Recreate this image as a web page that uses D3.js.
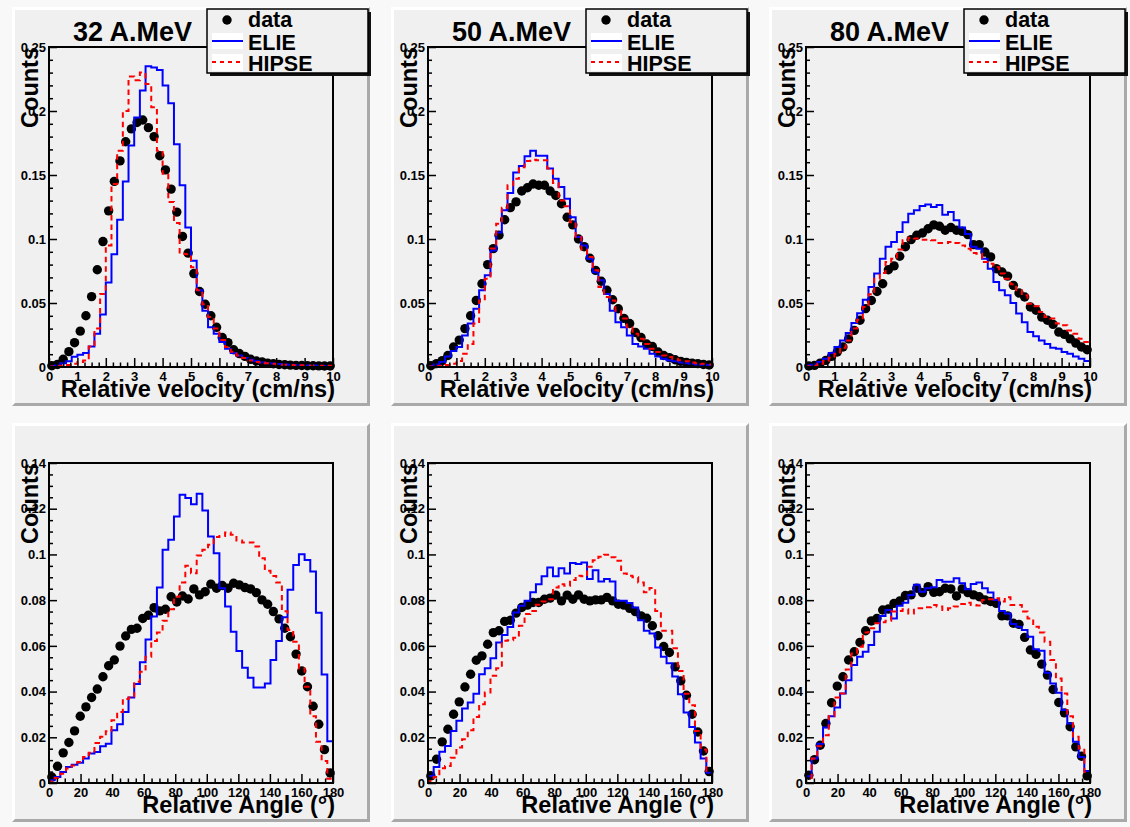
<!DOCTYPE html>
<html><head><meta charset="utf-8">
<script src="https://cdn.jsdelivr.net/npm/d3@7"></script>
<style>
body{margin:0;background:#f8f8f8}
svg{display:block}
text{font-family:"Liberation Sans",Arial,Helvetica,sans-serif;font-weight:bold;fill:#000}
</style>
</head><body>
<svg id="c" width="1130" height="827"></svg>
<script>
// ---------- categories / labels ----------
const energies = ["32 A.MeV", "50 A.MeV", "80 A.MeV"];
const seriesNames = ["data", "ELIE", "HIPSE"];
const velocityTitle = "Relative velocity (cm/ns)";
const angleTitle = "Relative Angle (°)";
const yTitle = "Counts";
const velocityRange = [0, 10];
const angleRange = [0, 180];
const nBins = 50;
const velXTicks = [0,1,2,3,4,5,6,7,8,9,10];
const velYTicks = [0,0.05,0.1,0.15,0.2,0.25];
const angXTicks = [0,20,40,60,80,100,120,140,160,180];
const angYTicks = [0,0.02,0.04,0.06,0.08,0.1,0.12,0.14];

// ---------- relative velocity, 32 A.MeV ----------
const vel32Data = [0.001,0.002,0.006,0.012,0.019,0.028,0.040,0.055,0.076,0.098,0.122,0.145,0.161,0.176,0.186,0.191,0.193,0.187,0.180,0.165,0.154,0.139,0.121,0.102,0.089,0.073,0.059,0.049,0.040,0.031,0.023,0.019,0.0135,0.0105,0.0083,0.006,0.0047,0.004,0.003,0.0025,0.002,0.0018,0.0015,0.0013,0.0012,0.001,0.001,0.0009,0.0008,0.0008];
const vel32Elie = [0.0005,0.0012,0.003,0.0045,0.008,0.0095,0.011,0.016,0.026,0.041,0.066,0.088,0.115,0.145,0.173,0.195,0.216,0.235,0.234,0.232,0.220,0.206,0.174,0.142,0.109,0.083,0.060,0.044,0.031,0.026,0.0195,0.0143,0.011,0.009,0.007,0.0057,0.0045,0.0036,0.003,0.0027,0.0024,0.002,0.0018,0.0016,0.0014,0.0012,0.0011,0.001,0.0009,0.0008];
const vel32Hipse = [0.0003,0.0005,0.001,0.0015,0.0025,0.004,0.005,0.016,0.030,0.057,0.095,0.143,0.169,0.200,0.227,0.224,0.230,0.221,0.203,0.169,0.151,0.129,0.1125,0.0885,0.088,0.078,0.060,0.049,0.039,0.030,0.021,0.0156,0.012,0.009,0.007,0.005,0.004,0.0035,0.003,0.0025,0.002,0.0018,0.0016,0.0014,0.0013,0.0012,0.0011,0.001,0.001,0.001];

// ---------- relative velocity, 50 A.MeV ----------
const vel50Data = [0.001,0.0026,0.005,0.009,0.0156,0.021,0.030,0.040,0.052,0.065,0.080,0.0925,0.103,0.115,0.1245,0.129,0.1375,0.140,0.143,0.142,0.142,0.1375,0.134,0.1275,0.117,0.111,0.100,0.094,0.085,0.0755,0.067,0.060,0.0525,0.0455,0.038,0.034,0.027,0.023,0.018,0.016,0.0117,0.009,0.0073,0.0057,0.0044,0.0036,0.003,0.0026,0.002,0.0016];
const vel50Elie = [0.0008,0.002,0.004,0.0083,0.0125,0.0156,0.0247,0.034,0.0455,0.060,0.0716,0.091,0.105,0.1224,0.136,0.152,0.157,0.1646,0.169,0.165,0.165,0.155,0.147,0.1406,0.1315,0.117,0.1016,0.095,0.0846,0.074,0.0677,0.057,0.044,0.035,0.031,0.0247,0.018,0.016,0.0143,0.0104,0.0083,0.0065,0.0052,0.0044,0.0036,0.003,0.0026,0.002,0.0018,0.0016];
const vel50Hipse = [0.0003,0.0005,0.001,0.0016,0.0026,0.0047,0.0104,0.018,0.034,0.052,0.069,0.0925,0.112,0.1245,0.142,0.147,0.156,0.161,0.162,0.1615,0.1615,0.155,0.1437,0.130,0.1255,0.113,0.1016,0.0917,0.086,0.0755,0.0625,0.0547,0.052,0.044,0.0378,0.031,0.026,0.022,0.018,0.0143,0.0117,0.009,0.0078,0.0065,0.0052,0.0044,0.0036,0.003,0.0026,0.002];

// ---------- relative velocity, 80 A.MeV ----------
const vel80Data = [0.0008,0.0013,0.003,0.0052,0.0083,0.0117,0.0156,0.022,0.0286,0.0365,0.0456,0.052,0.059,0.065,0.076,0.079,0.0865,0.094,0.0995,0.1029,0.1047,0.108,0.111,0.110,0.1068,0.109,0.1068,0.106,0.1034,0.0956,0.0956,0.0898,0.086,0.0768,0.0742,0.071,0.0638,0.0578,0.0547,0.0469,0.0443,0.039,0.0365,0.0333,0.0273,0.0255,0.022,0.0187,0.0156,0.0135];
const vel80Elie = [0.0013,0.002,0.004,0.0065,0.011,0.0156,0.0208,0.0266,0.0344,0.042,0.0526,0.0625,0.073,0.0846,0.094,0.0977,0.1055,0.113,0.1198,0.1224,0.1258,0.127,0.125,0.1266,0.119,0.121,0.1146,0.109,0.104,0.094,0.0924,0.0846,0.0768,0.0664,0.060,0.056,0.050,0.0417,0.035,0.0273,0.024,0.0208,0.018,0.0151,0.0143,0.0117,0.0104,0.0083,0.0065,0.0047];
const vel80Hipse = [0.0005,0.001,0.0026,0.0047,0.0073,0.0104,0.0151,0.0208,0.030,0.037,0.0469,0.0568,0.069,0.0734,0.082,0.0846,0.0917,0.099,0.101,0.1003,0.0995,0.0995,0.099,0.0969,0.0969,0.0977,0.0969,0.095,0.0924,0.089,0.0885,0.082,0.0807,0.078,0.073,0.069,0.0646,0.060,0.056,0.0495,0.0474,0.043,0.039,0.0378,0.0339,0.0326,0.0286,0.026,0.022,0.0195];

// ---------- relative angle, 32 A.MeV ----------
const ang32Data = [0.0026,0.0073,0.0132,0.0177,0.0228,0.0292,0.0333,0.0374,0.0411,0.0465,0.0513,0.0538,0.0599,0.0643,0.0672,0.0677,0.072,0.0734,0.0767,0.0753,0.076,0.0815,0.0792,0.0818,0.0805,0.0849,0.0823,0.0837,0.087,0.0852,0.0864,0.0852,0.0874,0.0867,0.0855,0.0849,0.0833,0.0801,0.0782,0.075,0.0718,0.0677,0.064,0.0564,0.049,0.0421,0.0336,0.0257,0.0146,0.0044];
const ang32Elie = [0.0012,0.0026,0.0048,0.007,0.008,0.0089,0.0107,0.0129,0.0136,0.0161,0.0172,0.0231,0.0257,0.0311,0.0374,0.0433,0.0528,0.0628,0.0728,0.0855,0.102,0.1064,0.1166,0.1261,0.1247,0.122,0.1266,0.1192,0.1078,0.1005,0.0852,0.0772,0.0662,0.0577,0.0504,0.046,0.0418,0.0418,0.0435,0.0538,0.0621,0.0725,0.0845,0.0954,0.1001,0.0976,0.0925,0.0745,0.0475,0.0183];
const ang32Hipse = [0.0007,0.0022,0.0041,0.0063,0.0077,0.0092,0.0114,0.0132,0.0175,0.0202,0.0226,0.0275,0.0311,0.0368,0.0374,0.0443,0.0487,0.0552,0.0621,0.0658,0.071,0.076,0.0815,0.0877,0.095,0.0918,0.0995,0.102,0.1042,0.1076,0.1081,0.1096,0.1086,0.1061,0.1052,0.1052,0.1035,0.0983,0.0929,0.0906,0.0877,0.0751,0.0669,0.0618,0.0501,0.0421,0.0292,0.018,0.0096,0.0019];

// ---------- relative angle, 50 A.MeV ----------
const ang50Data = [0.0031,0.0104,0.018,0.0235,0.0301,0.0355,0.042,0.0476,0.0537,0.0556,0.0607,0.0658,0.0666,0.0707,0.0712,0.0743,0.0768,0.0778,0.079,0.079,0.0804,0.0809,0.0822,0.0797,0.0822,0.0804,0.0823,0.0804,0.0797,0.0801,0.0801,0.0812,0.0797,0.0782,0.0778,0.0764,0.075,0.0731,0.0721,0.0688,0.0644,0.0597,0.0571,0.0508,0.0447,0.0384,0.0301,0.0223,0.014,0.005];
const ang50Elie = [0.0031,0.007,0.0137,0.0162,0.0228,0.0272,0.0326,0.0352,0.0391,0.0476,0.0502,0.0546,0.0615,0.0648,0.0683,0.0746,0.0775,0.0797,0.0834,0.087,0.0904,0.0943,0.0904,0.0939,0.0917,0.0962,0.0958,0.0965,0.0892,0.0931,0.0882,0.0892,0.0882,0.0797,0.0797,0.0787,0.0768,0.0712,0.0666,0.0654,0.0593,0.0552,0.0524,0.0466,0.0388,0.0308,0.0245,0.0177,0.0107,0.0045];
const ang50Hipse = [0.0009,0.0026,0.0064,0.0074,0.0111,0.0155,0.0191,0.0231,0.0289,0.0345,0.0396,0.0469,0.0502,0.0622,0.0625,0.0636,0.0688,0.0739,0.0753,0.078,0.0794,0.0804,0.0855,0.087,0.0863,0.0888,0.0907,0.0904,0.0946,0.0975,0.099,0.0999,0.0988,0.0972,0.0917,0.0907,0.09,0.0877,0.0834,0.0853,0.0753,0.0666,0.0666,0.059,0.049,0.0391,0.034,0.0228,0.0147,0.0053];

// ---------- relative angle, 80 A.MeV ----------
const ang80Data = [0.0034,0.0102,0.0165,0.026,0.0351,0.0424,0.0465,0.0538,0.0574,0.0615,0.0666,0.0709,0.072,0.0757,0.0761,0.0786,0.0796,0.082,0.0823,0.0852,0.0833,0.0859,0.0834,0.0837,0.0852,0.0849,0.0818,0.0849,0.0833,0.0823,0.0815,0.0801,0.0794,0.0786,0.0731,0.0731,0.0699,0.0694,0.0637,0.0582,0.0563,0.052,0.0472,0.0409,0.0352,0.0307,0.0246,0.0158,0.0117,0.0031];
const ang80Elie = [0.0029,0.0107,0.0172,0.0243,0.0292,0.033,0.0392,0.045,0.0516,0.0552,0.0574,0.0604,0.0662,0.0731,0.0757,0.072,0.0775,0.0789,0.0823,0.0867,0.0837,0.0852,0.0856,0.0888,0.0881,0.0881,0.0896,0.0874,0.0848,0.0871,0.0877,0.0852,0.0833,0.0801,0.0753,0.0742,0.0696,0.0684,0.0669,0.064,0.0585,0.0579,0.0482,0.0435,0.0395,0.0319,0.026,0.018,0.0114,0.0053];
const ang80Hipse = [0.0022,0.0107,0.0161,0.0209,0.0292,0.0374,0.0392,0.0497,0.0567,0.0596,0.0658,0.0677,0.0699,0.0703,0.071,0.075,0.0753,0.076,0.0742,0.0764,0.0764,0.0769,0.0779,0.0772,0.0757,0.0764,0.0772,0.0783,0.0789,0.0779,0.0777,0.0801,0.0804,0.0808,0.0794,0.0813,0.0779,0.0779,0.075,0.072,0.0684,0.0658,0.0618,0.0538,0.0457,0.0392,0.0292,0.0202,0.0151,0.0048];

// ---------- layout ----------
const padX = [12, 391, 769];
const padY = [7, 423];
const padW = 358, padH = 399;
const frameDX = 37, frameDY = 40, frameW = 284, frameH = 320;

const svg = d3.select("#c");

const panels = [
  {row:0,col:0,title:energies[0],xr:velocityRange,xt:velXTicks,xsub:4,yt:velYTicks,ysub:5,xTitle:velocityTitle,d:vel32Data,e:vel32Elie,h:vel32Hipse},
  {row:0,col:1,title:energies[1],xr:velocityRange,xt:velXTicks,xsub:4,yt:velYTicks,ysub:5,xTitle:velocityTitle,d:vel50Data,e:vel50Elie,h:vel50Hipse},
  {row:0,col:2,title:energies[2],xr:velocityRange,xt:velXTicks,xsub:4,yt:velYTicks,ysub:5,xTitle:velocityTitle,d:vel80Data,e:vel80Elie,h:vel80Hipse},
  {row:1,col:0,title:null,xr:angleRange,xt:angXTicks,xsub:4,yt:angYTicks,ysub:4,xTitle:angleTitle,d:ang32Data,e:ang32Elie,h:ang32Hipse},
  {row:1,col:1,title:null,xr:angleRange,xt:angXTicks,xsub:4,yt:angYTicks,ysub:4,xTitle:angleTitle,d:ang50Data,e:ang50Elie,h:ang50Hipse},
  {row:1,col:2,title:null,xr:angleRange,xt:angXTicks,xsub:4,yt:angYTicks,ysub:4,xTitle:angleTitle,d:ang80Data,e:ang80Elie,h:ang80Hipse}
];

function minorTicks(major, sub) {
  const out = [];
  for (let i = 0; i < major.length - 1; i++) {
    const step = (major[i+1] - major[i]) / sub;
    for (let k = 1; k < sub; k++) out.push(major[i] + k * step);
  }
  return out;
}
const fmt = d => d === 0 ? "0" : d3.format("~g")(d);

panels.forEach(p => {
  const px = padX[p.col], py = padY[p.row];
  const g = svg.append("g");
  // pad background with bevel
  g.append("rect").attr("x", px).attr("y", py).attr("width", padW).attr("height", padH).attr("fill", "#f0f0f0");
  const bw = 3;
  g.append("polygon").attr("fill", "#ffffff")
    .attr("points", [[px,py],[px+padW,py],[px+padW-bw,py+bw],[px+bw,py+bw],[px+bw,py+padH-bw],[px,py+padH]].map(a=>a.join(",")).join(" "));
  g.append("polygon").attr("fill", "#a9a9a9")
    .attr("points", [[px+padW,py],[px+padW,py+padH],[px,py+padH],[px+bw,py+padH-bw],[px+padW-bw,py+padH-bw],[px+padW-bw,py+bw]].map(a=>a.join(",")).join(" "));

  const fx = px + frameDX, fy = py + frameDY;
  const x = d3.scaleLinear().domain(p.xr).range([fx, fx + frameW]);
  const y = d3.scaleLinear().domain([0, p.yt[p.yt.length-1]]).range([fy + frameH, fy]);

  g.append("rect").attr("x", fx).attr("y", fy).attr("width", frameW).attr("height", frameH).attr("fill", "#f0f0f0");

  const bwid = (p.xr[1] - p.xr[0]) / nBins;
  const lo = i => p.xr[0] + i * bwid;
  const centers = p.d.map((v, i) => lo(i) + bwid / 2);

  const plot = g.append("g");
  // data points
  plot.selectAll("circle").data(p.d).enter().append("circle")
    .attr("cx", (v, i) => x(centers[i])).attr("cy", v => y(v)).attr("r", 4.7).attr("fill", "#000");

  function stepPts(vals) {
    const pts = [[lo(0), 0]];
    vals.forEach((v, i) => { pts.push([lo(i), v]); pts.push([lo(i+1), v]); });
    pts.push([lo(vals.length), 0]);
    return pts;
  }
  const line = d3.line().x(d => x(d[0])).y(d => y(d[1]));
  plot.append("path").attr("d", line(stepPts(p.e))).attr("fill", "none").attr("stroke", "#0000ff").attr("stroke-width", 2);
  plot.append("path").attr("d", line(stepPts(p.h))).attr("fill", "none").attr("stroke", "#ff0000").attr("stroke-width", 2).attr("stroke-dasharray", "5.5,4");

  // axes
  const styleAxis = sel => {
    sel.select(".domain").remove();
    sel.selectAll(".tick line").attr("stroke", "#000").attr("stroke-width", 1.5);
    sel.selectAll("text").style("font-size", "13px").style("font-weight", "bold").attr("fill", "#000")
      .style("font-family", '"Liberation Sans",Arial,sans-serif');
  };
  g.append("g").attr("transform", `translate(${fx},0)`)
    .call(d3.axisLeft(y).tickValues(p.yt).tickFormat(fmt).tickSize(-8).tickPadding(3)).call(styleAxis);
  g.append("g").attr("transform", `translate(${fx},0)`)
    .call(d3.axisLeft(y).tickValues(minorTicks(p.yt, p.ysub)).tickFormat("").tickSize(-4)).call(styleAxis);
  g.append("g").attr("transform", `translate(0,${fy+frameH})`)
    .call(d3.axisBottom(x).tickValues(p.xt).tickFormat(fmt).tickSize(-9).tickPadding(5)).call(styleAxis);
  g.append("g").attr("transform", `translate(0,${fy+frameH})`)
    .call(d3.axisBottom(x).tickValues(minorTicks(p.xt, p.xsub)).tickFormat("").tickSize(-4.5)).call(styleAxis);

  // frame border
  g.append("rect").attr("x", fx).attr("y", fy).attr("width", frameW).attr("height", frameH)
    .attr("fill", "none").attr("stroke", "#000").attr("stroke-width", 2);

  // axis titles
  g.append("text").attr("x", fx + frameW + 2).attr("y", fy + frameH + 30)
    .attr("text-anchor", "end").style("font-size", "23.5px").text(p.xTitle);
  g.append("text").attr("transform", `translate(${fx - 11},${fy}) rotate(-90)`)
    .attr("text-anchor", "end").style("font-size", "23.5px").text(yTitle);

  if (p.title) {
    g.append("text").attr("x", px + 61).attr("y", fy - 6).style("font-size", "27px").text(p.title);
    // legend
    const lx = fx + frameW - 126, ly = fy - 38, lw = 161, lh = 64;
    g.append("rect").attr("x", lx + 3).attr("y", ly + 3).attr("width", lw).attr("height", lh).attr("fill", "#111");
    g.append("rect").attr("x", lx).attr("y", ly).attr("width", lw).attr("height", lh)
      .attr("fill", "#f0f0f0").attr("stroke", "#000").attr("stroke-width", 1.5);
    const rowsY = [18, 41, 62];
    g.append("circle").attr("cx", lx + 20).attr("cy", ly + 11).attr("r", 4.7).attr("fill", "#000");
    g.append("rect").attr("x", lx + 5).attr("y", ly + 24).attr("width", 31).attr("height", 16).attr("fill", "#fff");
    g.append("rect").attr("x", lx + 5).attr("y", ly + 45).attr("width", 31).attr("height", 17).attr("fill", "#fff");
    g.append("line").attr("x1", lx + 5).attr("x2", lx + 36).attr("y1", ly + 32).attr("y2", ly + 32)
      .attr("stroke", "#0000ff").attr("stroke-width", 2);
    g.append("line").attr("x1", lx + 5).attr("x2", lx + 36).attr("y1", ly + 53).attr("y2", ly + 53)
      .attr("stroke", "#ff0000").attr("stroke-width", 2).attr("stroke-dasharray", "4,4");
    seriesNames.forEach((n, i) => {
      g.append("text").attr("x", lx + 41).attr("y", ly + rowsY[i]).style("font-size", "21.5px").text(n);
    });
  }
});
</script>
</body></html>
